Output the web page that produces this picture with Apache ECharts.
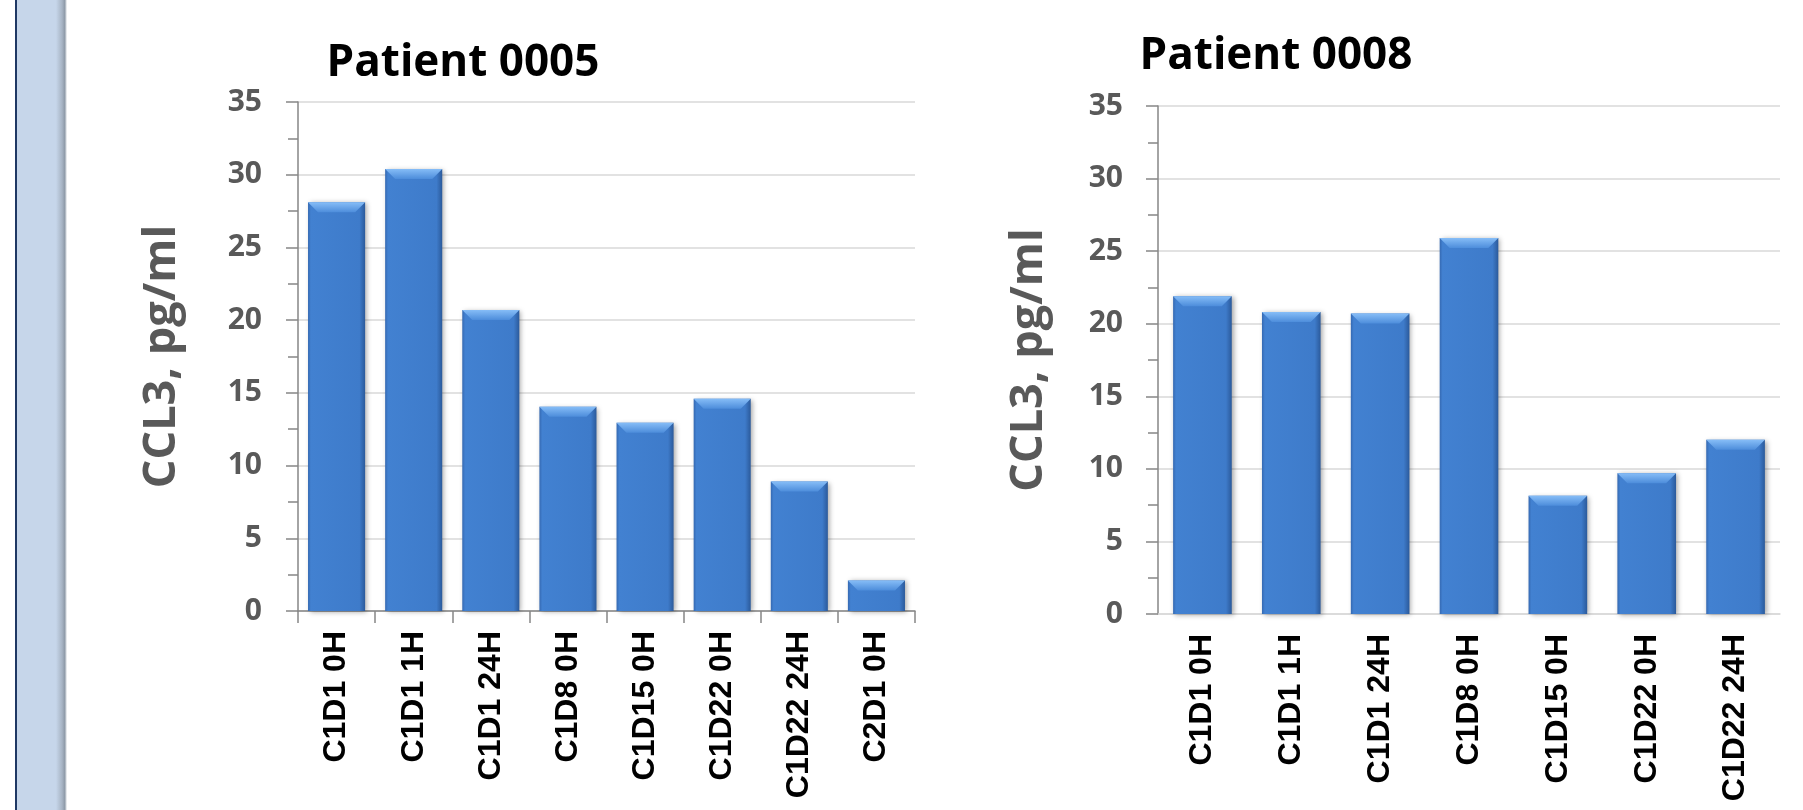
<!DOCTYPE html>
<html>
<head>
<meta charset="utf-8">
<script src="https://cdn.jsdelivr.net/npm/echarts@6/dist/echarts.min.js"></script>
<style>
  html, body { margin: 0; padding: 0; background: #ffffff; }
  #chart { width: 1803px; height: 810px; }
</style>
</head>
<body>
<div id="chart"></div>
<script>
var timepoints0005 = ['C1D1 0H', 'C1D1 1H', 'C1D1 24H', 'C1D8 0H', 'C1D15 0H', 'C1D22 0H', 'C1D22 24H', 'C2D1 0H'];
var ccl3_0005 = [28.1, 30.4, 20.7, 14.05, 12.95, 14.6, 8.9, 2.1];

var timepoints0008 = ['C1D1 0H', 'C1D1 1H', 'C1D1 24H', 'C1D8 0H', 'C1D15 0H', 'C1D22 0H', 'C1D22 24H'];
var ccl3_0008 = [21.9, 20.8, 20.7, 25.9, 8.15, 9.7, 12.0];

var yTicks = [0, 5, 10, 15, 20, 25, 30, 35];

var chart = echarts.init(document.getElementById('chart'));

var gray = '#595959';
var axisGray = '#868686';
var gridGray = '#d9d9d9';

// bar body and top bevel, like the office 3d bevel bars
var bodyFill = new echarts.graphic.LinearGradient(0, 0, 1, 0, [
  { offset: 0, color: '#3569b2' },
  { offset: 0.05, color: '#4281d1' },
  { offset: 0.9, color: '#3e7bca' },
  { offset: 1, color: '#2b5a9b' }
]);
var bevelFill = new echarts.graphic.LinearGradient(0, 0, 0, 1, [
  { offset: 0, color: '#86bdf7' },
  { offset: 1, color: '#4d8ddb' }
]);

var bevelBar = function(ratio) {
  return function(params, api) {
    var top = api.coord([api.value(0), api.value(1)]);
    var base = api.coord([api.value(0), 0]);
    var w = api.size([1, 0])[0] * ratio;
    var x0 = top[0] - w / 2;
    var h = base[1] - top[1];
    var b = Math.min(10, h / 2);
    return {
      type: 'group',
      children: [
        {
          type: 'rect',
          shape: { x: x0, y: top[1], width: w, height: h },
          style: {
            fill: bodyFill,
            shadowBlur: 5,
            shadowOffsetX: 2,
            shadowOffsetY: 1,
            shadowColor: 'rgba(0,0,0,0.35)'
          }
        },
        {
          type: 'polygon',
          shape: { points: [[x0, top[1]], [x0 + w, top[1]], [x0 + w - b, top[1] + b], [x0 + b, top[1] + b]] },
          style: { fill: bevelFill }
        }
      ]
    };
  };
};

var yAxisFor = function(gridIndex, nameGap, labelMargin) {
  return {
    gridIndex: gridIndex,
    type: 'value',
    min: yTicks[0],
    max: yTicks[yTicks.length - 1],
    interval: 5,
    name: 'CCL3, pg/ml',
    nameLocation: 'middle',
    nameGap: nameGap,
    nameTextStyle: {
      fontFamily: 'Open Sans',
      fontWeight: 'bold',
      fontSize: 45,
      color: gray
    },
    axisLine: { show: true, lineStyle: { color: axisGray, width: 1.5 } },
    axisTick: { show: true, length: 12, lineStyle: { color: axisGray, width: 1.5 } },
    minorTick: { show: true, splitNumber: 2, length: 10, lineStyle: { color: axisGray, width: 1.5 } },
    axisLabel: {
      margin: labelMargin,
      fontFamily: 'Open Sans',
      fontWeight: 'bold',
      fontSize: 30,
      color: gray
    },
    splitLine: { show: true, lineStyle: { color: gridGray, width: 1.5 } }
  };
};

var xLabelStyle = {
  rotate: 90,
  interval: 0,
  margin: 20,
  fontFamily: 'Liberation Sans',
  fontWeight: 'bold',
  fontSize: 32,
  color: '#000000'
};

var option = {
  animation: false,
  backgroundColor: '#ffffff',
  graphic: [
    { type: 'rect', left: 16, top: 0, shape: { width: 44, height: 810 }, style: { fill: '#c6d6ea' } },
    {
      type: 'rect', left: 56, top: 0, shape: { width: 11, height: 810 },
      style: {
        fill: new echarts.graphic.LinearGradient(0, 0, 1, 0, [
          { offset: 0, color: '#c6d6ea' },
          { offset: 0.55, color: '#a7b4c4' },
          { offset: 0.8, color: '#8e9aa8' },
          { offset: 1, color: '#ffffff' }
        ])
      }
    },
    { type: 'rect', left: 15, top: 0, shape: { width: 2, height: 810 }, style: { fill: '#1f3864' } }
  ],
  title: [
    {
      text: 'Patient 0005',
      left: 463,
      top: 41,
      textAlign: 'center',
      padding: 0,
      textStyle: { fontFamily: 'Open Sans', fontWeight: 'bold', fontSize: 44, color: '#000000' }
    },
    {
      text: 'Patient 0008',
      left: 1276,
      top: 34,
      textAlign: 'center',
      padding: 0,
      textStyle: { fontFamily: 'Open Sans', fontWeight: 'bold', fontSize: 44, color: '#000000' }
    }
  ],
  grid: [
    { left: 298, right: 888, top: 102, bottom: 199 },
    { left: 1158, right: 23, top: 106, bottom: 196 }
  ],
  xAxis: [
    {
      gridIndex: 0,
      type: 'category',
      data: timepoints0005,
      axisLine: { show: true, lineStyle: { color: axisGray, width: 1.5 } },
      axisTick: { show: true, length: 12, lineStyle: { color: axisGray, width: 1.5 } },
      axisLabel: xLabelStyle
    },
    {
      gridIndex: 1,
      type: 'category',
      data: timepoints0008,
      axisLine: { show: true, lineStyle: { color: gridGray, width: 1.5 } },
      axisTick: { show: false },
      axisLabel: xLabelStyle
    }
  ],
  yAxis: [
    yAxisFor(0, 113, 36),
    yAxisFor(1, 106, 35)
  ],
  series: [
    {
      name: 'Patient 0005',
      type: 'custom',
      xAxisIndex: 0,
      yAxisIndex: 0,
      renderItem: bevelBar(0.74),
      data: ccl3_0005.map(function(v, i) { return [i, v]; })
    },
    {
      name: 'Patient 0008',
      type: 'custom',
      xAxisIndex: 1,
      yAxisIndex: 1,
      renderItem: bevelBar(0.66),
      data: ccl3_0008.map(function(v, i) { return [i, v]; })
    }
  ]
};

chart.setOption(option);
</script>
</body>
</html>
